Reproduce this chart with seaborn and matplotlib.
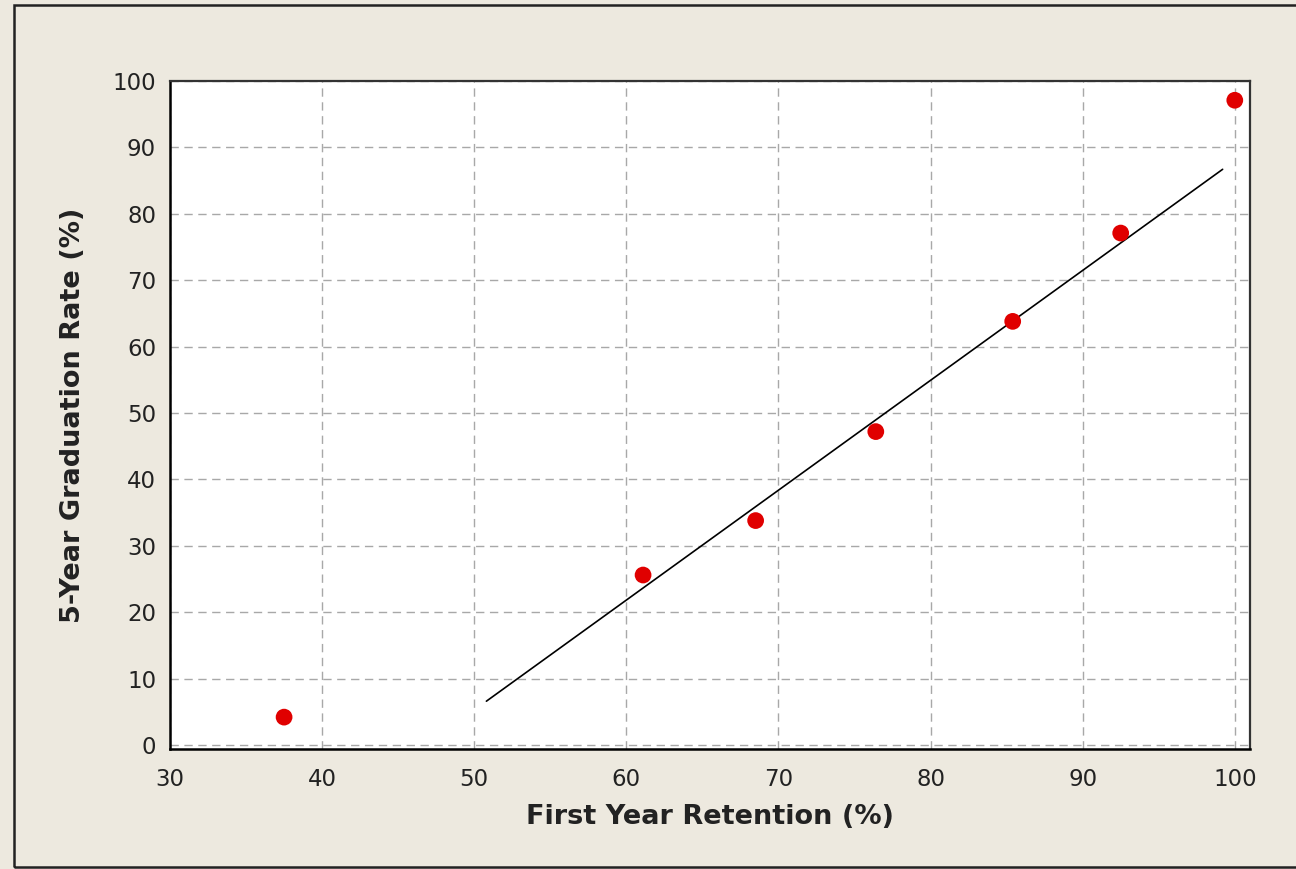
import matplotlib
matplotlib.use("Agg")
import matplotlib.pyplot as plt
import matplotlib.patches as patches
import seaborn as sns
import pandas as pd

sns.set_style("white")
plt.rcParams['font.family'] = ['DejaVu Sans']

retention = [37.5, 61.1, 68.5, 76.4, 85.4, 92.5, 100.0]
grad_rate = [4.2, 25.6, 33.8, 47.2, 63.8, 77.1, 97.1]
trend_x = [50.8, 99.2]
trend_y = [6.6, 86.7]
x_ticks = [30, 40, 50, 60, 70, 80, 90, 100]
y_ticks = [0, 10, 20, 30, 40, 50, 60, 70, 80, 90, 100]

df = pd.DataFrame({'retention': retention, 'grad': grad_rate})
trend = pd.DataFrame({'x': trend_x, 'y': trend_y})

bg = '#EDE9DF'
fig = plt.figure(figsize=(12.96, 8.69), dpi=100, facecolor=bg)
ax = fig.add_axes([170/1296, 1 - 749/869, 1080/1296, 668/869])
ax.set_facecolor('white')

# outer frame of the chart window
fig.patches.append(patches.Rectangle((14/1296, 2/869), 1.1, 862/869, transform=fig.transFigure,
                                     fill=False, edgecolor='#222222', linewidth=1.8, zorder=0))

sns.lineplot(data=trend, x='x', y='y', color='black', linewidth=1.2, ax=ax, zorder=3)
sns.scatterplot(data=df, x='retention', y='grad', color='#E00000', s=145,
                edgecolor='none', ax=ax, zorder=4)

ax.set_xlim(30, 101)
ax.set_ylim(-0.6, 100)
ax.set_xticks(x_ticks)
ax.set_yticks(y_ticks)
ax.grid(True, color='#A8A8A8', linestyle=(0, (6, 4)), linewidth=1.0)
ax.set_axisbelow(True)

for side in ['left', 'bottom']:
    ax.spines[side].set_color('black')
    ax.spines[side].set_linewidth(1.8)
for side in ['top', 'right']:
    ax.spines[side].set_color('#333333')
    ax.spines[side].set_linewidth(1.6)

ax.tick_params(axis='both', direction='out', length=6, width=1.5, color='black',
               labelsize=16.5, labelcolor='#222222', pad=4)
ax.tick_params(axis='x', pad=8)

ax.set_xlabel('First Year Retention (%)', fontsize=19.5, fontweight='bold', color='#222222', labelpad=9)
ax.set_ylabel('5-Year Graduation Rate (%)', fontsize=19.5, fontweight='bold', color='#222222', labelpad=19)

fig.savefig('out.png', dpi=100, facecolor=bg)
